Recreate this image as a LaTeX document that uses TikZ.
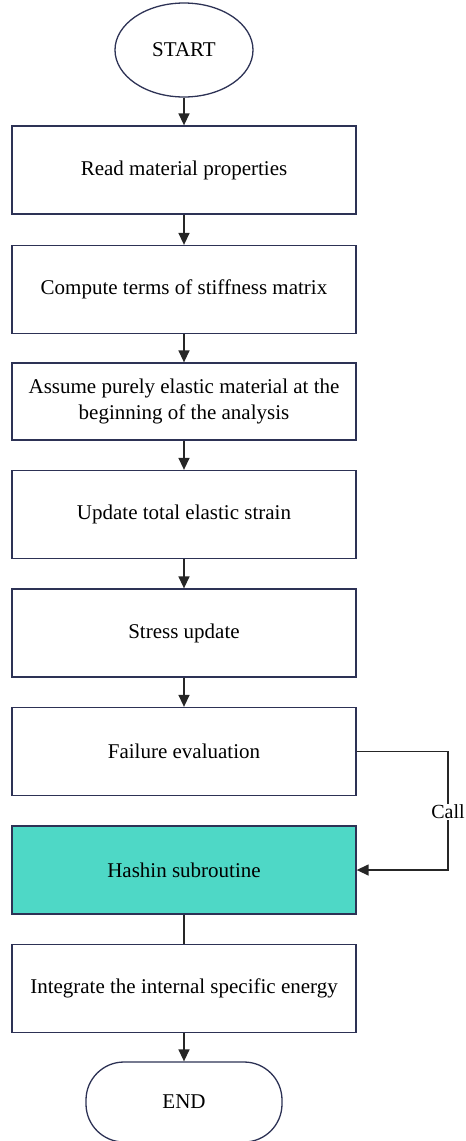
\documentclass[tikz,border=0pt]{standalone}
\usepackage{fontspec}
\setmainfont{Liberation Serif}
\usepackage{tikz}
\usetikzlibrary{arrows.meta}
\usetikzlibrary{shapes,calc}
\definecolor{boxline}{RGB}{45,50,85}
\definecolor{hashinfill}{RGB}{78,216,198}

\begin{document}
\begin{tikzpicture}[x=1pt,y=-1pt]
    \newcommand{\midx}{184}
    \tikzstyle{dedge} = [line width=1.4pt,-{Triangle[length=12pt,width=11pt]},draw=black!85]
    \tikzstyle{edge}  = [line width=1.4pt,draw=black!85]
    \tikzstyle{stepbox}=[
      rectangle,
      draw=boxline,
      line width=1.3pt,
      anchor=center,
      minimum width=344pt,
      minimum height=88pt,
      align=center,
      font=\fontsize{21}{26}\selectfont,
    ]
    \tikzstyle{terminal}=[
      draw=boxline,
      line width=1.3pt,
      anchor=center,
      font=\fontsize{21}{26}\selectfont,
    ]
    \useasboundingbox (0,0) rectangle (466,1141);

    \node[terminal,ellipse,minimum width=138pt,minimum height=94pt] (nStart) at (\midx,50) {START};
    \node[stepbox] (nRead) at (\midx,170) {Read material properties};
    \node[stepbox] (nStiff) at (\midx,289.5) {Compute terms of stiffness matrix};
    \node[stepbox,minimum height=77pt] (nElastic) at (\midx,401.5) {Assume purely elastic material at the\\beginning of the analysis};
    \node[stepbox] (nStrain) at (\midx,514.5) {Update total elastic strain};
    \node[stepbox] (nStress) at (\midx,633) {Stress update};
    \node[stepbox] (nFailure) at (\midx,751.5) {Failure evaluation};
    \node[stepbox,fill=hashinfill] (nHashin) at (\midx,870) {Hashin subroutine};
    \node[stepbox] (nEnergy) at (\midx,988.5) {Integrate the internal specific energy};
    \node[terminal,rectangle,rounded corners=38pt,minimum width=196pt,minimum height=80pt] (nEnd) at (\midx,1102) {END};

    \draw[dedge] (nStart)--(nRead);
    \draw[dedge] (nRead)--(nStiff);
    \draw[dedge] (nStiff)--(nElastic);
    \draw[dedge] (nElastic)--(nStrain);
    \draw[dedge] (nStrain)--(nStress);
    \draw[dedge] (nStress)--(nFailure);
    \draw[dedge] (nEnergy)--(nEnd);
    \draw[edge] (nHashin)--(nEnergy);
    \coordinate (cCall) at (448,812);
    \draw[dedge] (nFailure.east)-|(cCall)|-(nHashin.east);
    \node[fill=white,inner sep=1pt,font=\fontsize{20}{24}\selectfont] (lCall) at (cCall) {Call};
  \end{tikzpicture}
\end{document}
